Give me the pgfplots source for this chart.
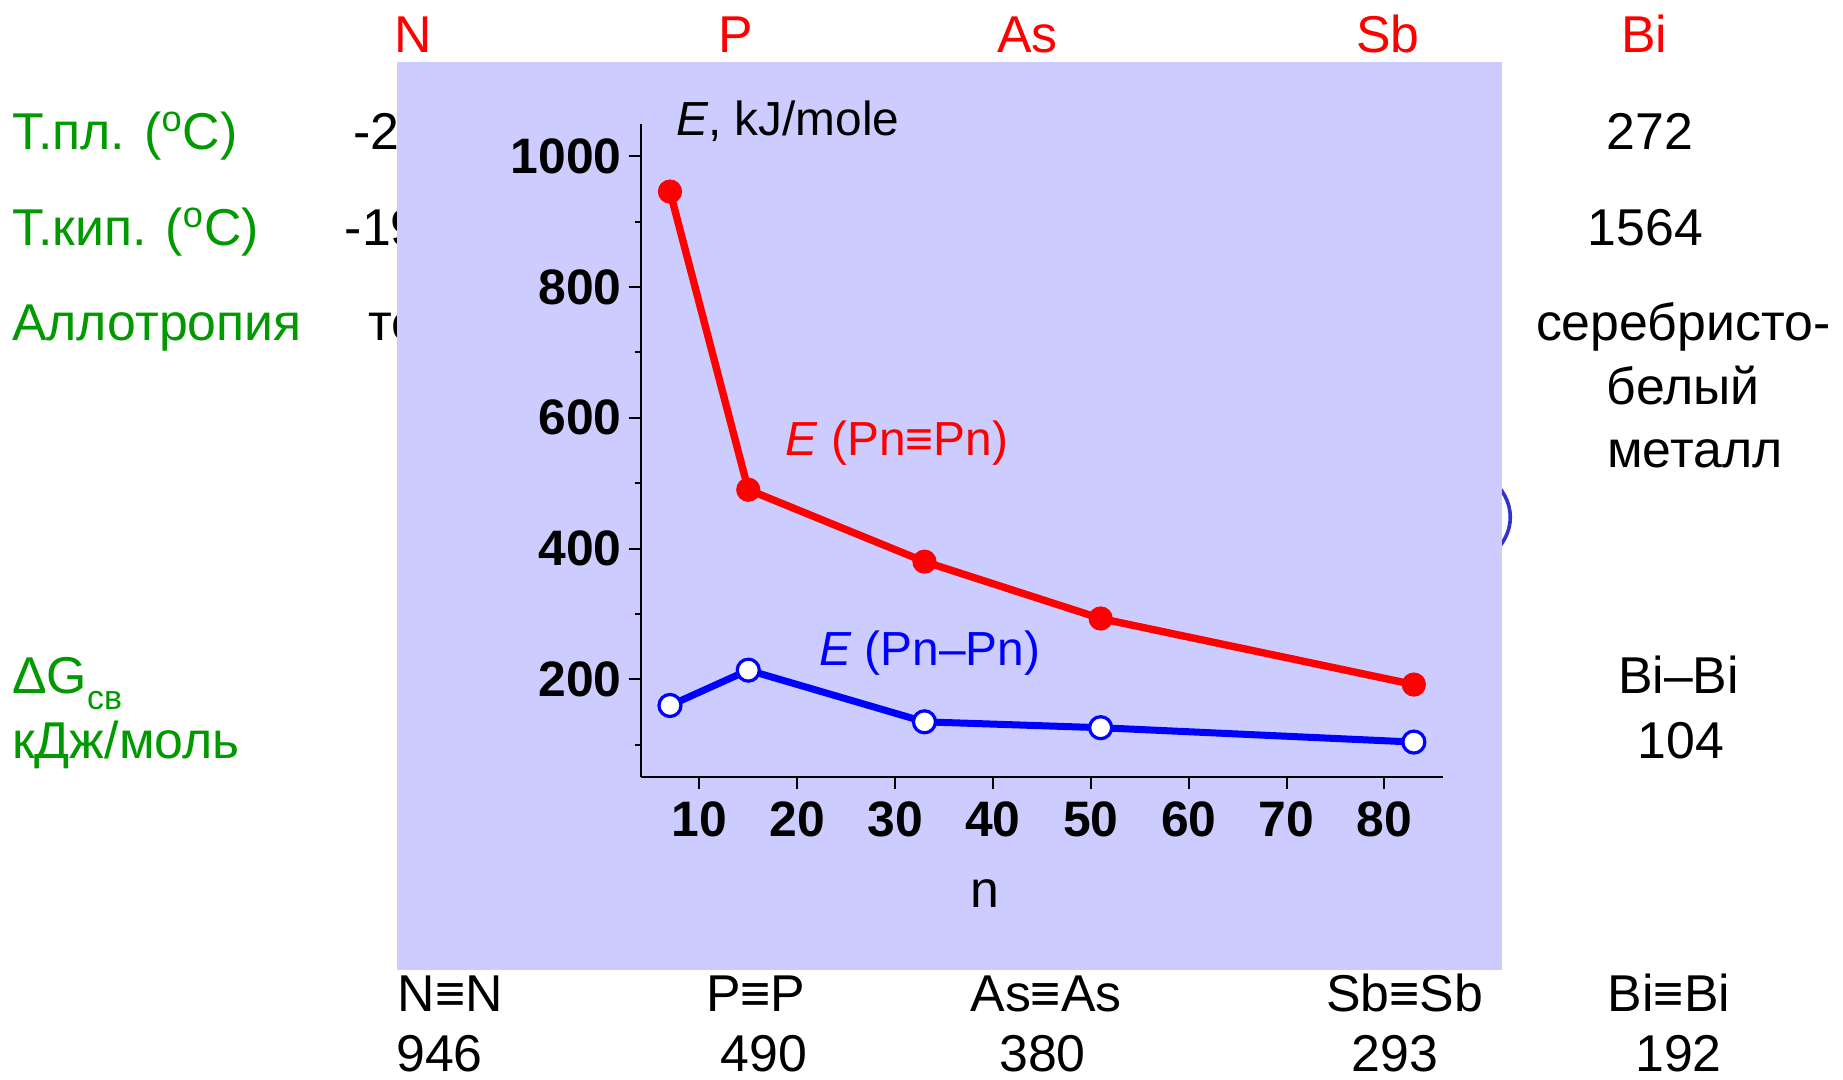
\documentclass[border=0pt]{standalone}
\usepackage{pgfplots}
\pgfplotsset{compat=1.18}
\usepackage{fontspec}
\setmainfont{Liberation Sans}
\definecolor{panel}{RGB}{204,204,255}
\definecolor{grn}{RGB}{0,153,0}
\definecolor{ell}{RGB}{51,51,204}
\newcommand{\fs}[1]{\fontsize{#1}{#1}\selectfont}
\begin{document}
\begin{tikzpicture}[x=0.5bp,y=0.5bp]
\useasboundingbox (0,0) rectangle (1843,1079);
% hidden decorations behind the panel
\draw[ell, line width=1.8bp] (1439.8,561.8) ellipse [x radius=70.5, y radius=55.2];
\begin{scope}[every node/.style={font=\fs{26}, inner sep=0, anchor=base west}]
\node at (352.6,929.7) {-210};
\node at (344.4,833.3) {-196};
\node at (367.9,738.1) {тетра};
\end{scope}
\fill[panel] (397.3,109.3) rectangle (1502.1,1016.7);
% header row
\begin{scope}[every node/.style={font=\fs{26}, inner sep=0, anchor=base}]
\node[red] at (413.7,1026.1) {N};
\node[red] at (735.8,1026.1) {P};
\node[red] at (1027.3,1026.1) {As};
\node[red] at (1388.1,1026.1) {Sb};
\node[red] at (1644.4,1026.1) {Bi};
% right column
\node at (1650.2,929.7) {272};
\node at (1645.5,833.3) {1564};
\node at (1683.2,738.1) {серебристо-};
\node at (1683.2,674.7) {белый};
\node at (1694.9,611.2) {металл};
\node at (1678.5,385.5) {Bi–Bi};
\node at (1680.8,320.9) {104};
% bottom rows
\node at (755.8,67.8) {P≡P};
\node at (1046.1,67.8) {As≡As};
\node at (1404.6,67.8) {Sb≡Sb};
\node at (1669.0,67.8) {Bi≡Bi};
\node at (439.6,7.5) {946};
\node at (764.0,7.5) {490};
\node at (1042.6,7.5) {380};
\node at (1395.2,7.5) {293};
\node at (1678.5,7.5) {192};
\end{scope}
\begin{scope}[every node/.style={font=\fs{26}, inner sep=0, anchor=base west}]
\node at (397.3,67.8) {N≡N};
\node[grn] at (11.8,929.7) {Т.пл. (\textsuperscript{o}C)};
\node[grn] at (11.8,833.3) {Т.кип. (\textsuperscript{o}C)};
\node[grn] at (11.8,738.1) {Аллотропия};
\node[grn] at (11.8,385.5) {ΔG\raisebox{-0.3em}{\fs{17}св}};
\node[grn] at (11.8,320.9) {кДж/моль};
\end{scope}
\begin{axis}[
  at={(320.3bp,150.8bp)}, anchor=south west,
  scale only axis, width=401.3bp, height=326.9bp,
  xmin=4, xmax=86, ymin=50, ymax=1050,
  axis x line*=bottom, axis y line*=left,
  axis line style={line width=1.1bp, -},
  tick align=outside,
  major tick length=6bp, minor tick length=3bp,
  every tick/.style={black, line width=1bp},
  xtick={10,20,...,80}, ytick={200,400,...,1000},
  minor ytick={100,300,...,900},
  ticklabel style={font=\bfseries\fs{25}},
  xticklabel style={yshift=-2.8bp},
  /pgf/number format/assume math mode=true,
  /pgf/number format/1000 sep={},
  xlabel={n},
  xlabel style={font=\fs{26}, at={(axis description cs:0.429,-0.1988)}, anchor=base, inner sep=0},
  ylabel={\textit{E}, kJ/mole},
  ylabel style={rotate=-90, font=\fs{24}, at={(axis description cs:0.0439,0.982)}, anchor=base west, inner sep=0},
  clip=false,
]
\addplot[red, line width=3.7bp, mark=*, mark size=5.8bp, mark options={fill=red, line width=0.5bp}]
  coordinates {(7,946) (15,490) (33,380) (51,293) (83,192)};
\addplot[blue, line width=3.5bp, mark=*, mark size=5.5bp, mark options={fill=white, draw=blue, line width=1.6bp}]
  coordinates {(7,160) (15,214) (33,135) (51,126) (83,104)};
\node[red, font=\fs{24}, anchor=base west, inner sep=0] at (axis cs:18.8,541.6) {\textit{E} (Pn≡Pn)};
\node[blue, font=\fs{24}, anchor=base west, inner sep=0] at (axis cs:22.2,221.5) {\textit{E} (Pn–Pn)};
\end{axis}
\end{tikzpicture}
\end{document}
